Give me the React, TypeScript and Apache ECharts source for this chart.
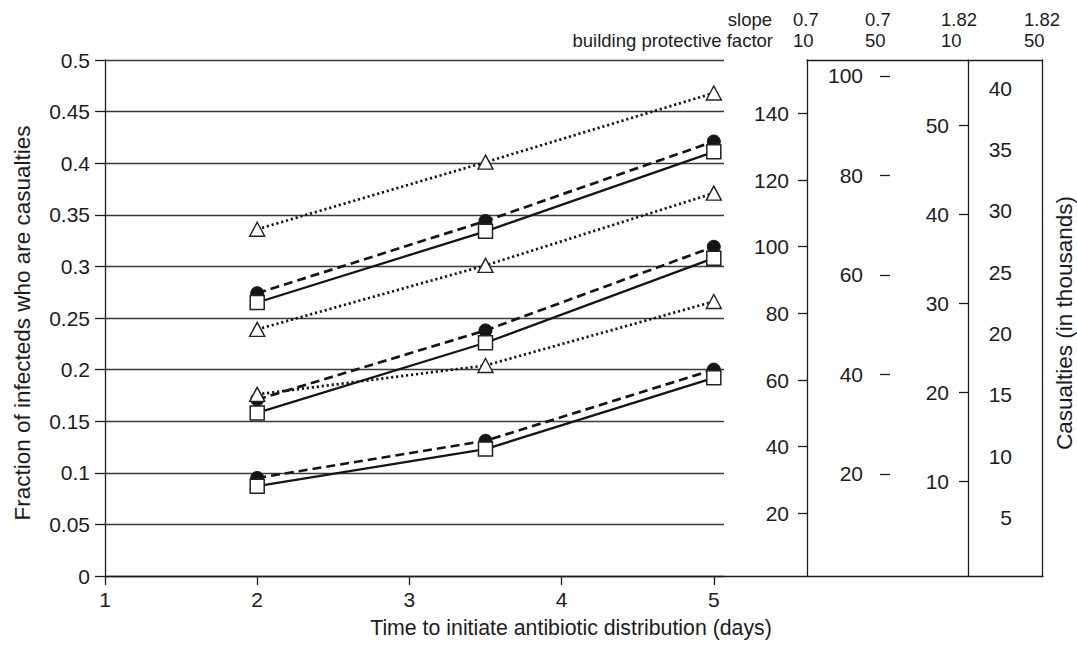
import React, { useEffect, useRef } from "react";
import * as echarts from "echarts";

// ---------- data ----------
const X_VALUES = [2, 3.5, 5];
const X_TICKS = [1, 2, 3, 4, 5];

const circlesHigh = [0.274, 0.344, 0.421];
const squaresHigh = [0.265, 0.334, 0.411];
const circlesMid = [0.171, 0.238, 0.319];
const squaresMid = [0.158, 0.226, 0.308];
const circlesLow = [0.095, 0.131, 0.2];
const squaresLow = [0.087, 0.123, 0.192];
const trianglesHigh = [0.336, 0.401, 0.468];
const trianglesMid = [0.239, 0.301, 0.371];
const trianglesLow = [0.176, 0.204, 0.266];

const slopeValues = ["0.7", "0.7", "1.82", "1.82"];
const protectiveFactors = ["10", "50", "10", "50"];

const casualtyTicksA = [20, 40, 60, 80, 100, 120, 140];
const casualtyTicksB = [20, 40, 60, 80, 100];
const casualtyTicksC = [10, 20, 30, 40, 50];
const casualtyTicksD = [5, 10, 15, 20, 25, 30, 35, 40];

const rangeA = [1.2, 156];
const rangeB = [-0.5, 103.2];
const rangeC = [-0.63, 57.3];
const rangeD = [0.21, 42.31];

// ---------- style / layout ----------
const FONT = "'Liberation Sans', Arial, Helvetica, sans-serif";
const INK = "#1c1c1c";
const GRID_INK = "#3a3a3a";
const TICK_FONT = 21;
const X_TITLE_FONT = 21.3;
const Y_TITLE_FONT = 22.5;
const HEADER_FONT = 18.5;
const HEADER_COL_X = [793, 865, 941, 1024];

const pair = (ys: number[]) => X_VALUES.map((x, i) => [x, ys[i]]);

const lineAxis = { show: true, onZero: false, lineStyle: { color: INK, width: 1.3 } };
const tickStyle = { color: INK, width: 1.3 };
const labelStyle = { color: INK, fontFamily: FONT, fontSize: TICK_FONT };

function circleSeries(ys: number[]) {
  return {
    type: "line",
    xAxisIndex: 0,
    yAxisIndex: 0,
    data: pair(ys),
    symbol: "circle",
    symbolSize: 13,
    itemStyle: { color: "#151515", borderColor: "#151515", borderWidth: 1 },
    lineStyle: { color: "#151515", width: 2.7, type: [9, 5] },
    z: 3,
  };
}
function squareSeries(ys: number[]) {
  return {
    type: "line",
    xAxisIndex: 0,
    yAxisIndex: 0,
    data: pair(ys),
    symbol: "rect",
    symbolSize: 14,
    itemStyle: { color: "#ffffff", borderColor: "#222", borderWidth: 1.5 },
    lineStyle: { color: "#151515", width: 2.3, type: "solid" },
    z: 4,
  };
}
function triangleSeries(ys: number[]) {
  return {
    type: "line",
    xAxisIndex: 0,
    yAxisIndex: 0,
    data: pair(ys),
    symbol: "triangle",
    symbolSize: [15, 14],
    itemStyle: { color: "#ffffff", borderColor: "#222", borderWidth: 1.4 },
    lineStyle: { color: "#151515", width: 2.7, type: [2.2, 2.8] },
    z: 5,
  };
}

export default function App() {
  const ref = useRef<HTMLDivElement>(null);

  useEffect(() => {
    if (!ref.current) return;
    const chart = echarts.init(ref.current, undefined, { renderer: "svg" });

    const txt = (text: string, x: number, y: number, align: string, size: number) => ({
      type: "text",
      x,
      y,
      style: { text, fill: INK, fontFamily: FONT, fontSize: size, textAlign: align, textVerticalAlign: "middle" },
    });

    const headerTexts: any[] = [
      txt("slope", 772, 19, "right", HEADER_FONT),
      txt("building protective factor", 773, 40, "right", HEADER_FONT),
    ];
    slopeValues.forEach((t, i) => headerTexts.push(txt(t, HEADER_COL_X[i], 19, "left", HEADER_FONT)));
    protectiveFactors.forEach((t, i) => headerTexts.push(txt(t, HEADER_COL_X[i], 40, "left", HEADER_FONT)));
    headerTexts.push(txt("Time to initiate antibiotic distribution (days)", 571, 628, "center", X_TITLE_FONT));

    const option: any = {
      animation: false,
      backgroundColor: "#ffffff",
      textStyle: { fontFamily: FONT },
      grid: [
        { left: 105, top: 60, width: 619, height: 516 },
        { left: 724, top: 60, width: 319, height: 516 },
        { left: 807, top: 60, width: 236, height: 516 },
      ],
      xAxis: [
        {
          gridIndex: 0,
          type: "value",
          min: 1,
          max: 5.067,
          axisLine: lineAxis,
          axisTick: { show: true, length: 9, customValues: X_TICKS, lineStyle: tickStyle },
          axisLabel: { show: true, margin: 13, customValues: X_TICKS, ...labelStyle },
          splitLine: { show: false },
        },
        {
          gridIndex: 1,
          type: "value",
          min: 0,
          max: 1,
          axisLine: lineAxis,
          axisTick: { show: false },
          axisLabel: { show: false },
          splitLine: { show: false },
        },
        {
          gridIndex: 2,
          type: "value",
          position: "top",
          min: 0,
          max: 1,
          axisLine: lineAxis,
          axisTick: { show: false },
          axisLabel: { show: false },
          splitLine: { show: false },
        },
      ],
      yAxis: [
        {
          gridIndex: 0,
          type: "value",
          min: 0,
          max: 0.5,
          interval: 0.05,
          axisLine: lineAxis,
          axisTick: { show: true, length: 10, lineStyle: tickStyle },
          axisLabel: {
            show: true,
            margin: 15,
            formatter: (v: number) => String(Math.round(v * 100) / 100),
            ...labelStyle,
          },
          splitLine: { show: true, lineStyle: { color: GRID_INK, width: 1.3 } },
          name: "Fraction of infecteds who are casualties",
          nameLocation: "middle",
          nameRotate: 90,
          nameGap: 71,
          nameTextStyle: { ...labelStyle, fontSize: Y_TITLE_FONT, padding: [0, 10, 0, 0] },
        },
        { gridIndex: 1, type: "value", min: 0, max: 1, show: false },
        {
          gridIndex: 2,
          type: "value",
          position: "left",
          offset: 0,
          min: rangeA[0],
          max: rangeA[1],
          axisLine: lineAxis,
          axisTick: { show: true, length: 9, customValues: casualtyTicksA, lineStyle: tickStyle },
          axisLabel: { show: true, margin: 18, customValues: casualtyTicksA, ...labelStyle },
          splitLine: { show: false },
        },
        {
          gridIndex: 2,
          type: "value",
          position: "left",
          offset: -83,
          min: rangeB[0],
          max: rangeB[1],
          axisLine: { show: false, onZero: false },
          axisTick: { show: true, length: 10, customValues: casualtyTicksB, lineStyle: tickStyle },
          axisLabel: { show: true, margin: 27, customValues: casualtyTicksB, ...labelStyle },
          splitLine: { show: false },
        },
        {
          gridIndex: 2,
          type: "value",
          position: "right",
          offset: -74,
          min: rangeC[0],
          max: rangeC[1],
          axisLine: lineAxis,
          axisTick: { show: true, inside: true, length: 9, customValues: casualtyTicksC, lineStyle: tickStyle },
          axisLabel: { show: true, inside: true, margin: 19, customValues: casualtyTicksC, ...labelStyle },
          splitLine: { show: false },
        },
        {
          gridIndex: 2,
          type: "value",
          position: "right",
          offset: -74,
          min: rangeD[0],
          max: rangeD[1],
          axisLine: { show: false, onZero: false },
          axisTick: { show: false },
          axisLabel: { show: true, margin: 44, align: "right", customValues: casualtyTicksD, ...labelStyle },
          splitLine: { show: false },
        },
        {
          gridIndex: 2,
          type: "value",
          position: "right",
          offset: 0,
          min: 0,
          max: 1,
          axisLine: lineAxis,
          axisTick: { show: false },
          axisLabel: { show: false },
          splitLine: { show: false },
          name: "Casualties (in thousands)",
          nameLocation: "middle",
          nameRotate: 90,
          nameGap: 11,
          nameTextStyle: { ...labelStyle, fontSize: Y_TITLE_FONT, padding: [0, 10, 0, 0] },
        },
      ],
      series: [
        circleSeries(circlesHigh),
        circleSeries(circlesMid),
        circleSeries(circlesLow),
        squareSeries(squaresHigh),
        squareSeries(squaresMid),
        squareSeries(squaresLow),
        triangleSeries(trianglesHigh),
        triangleSeries(trianglesMid),
        triangleSeries(trianglesLow),
      ],
      graphic: headerTexts,
    };

    chart.setOption(option);
    return () => chart.dispose();
  }, []);

  return (
    <div
      ref={ref}
      style={{ position: "absolute", left: 0, top: 0, width: 1077, height: 649, background: "#fff" }}
    />
  );
}
